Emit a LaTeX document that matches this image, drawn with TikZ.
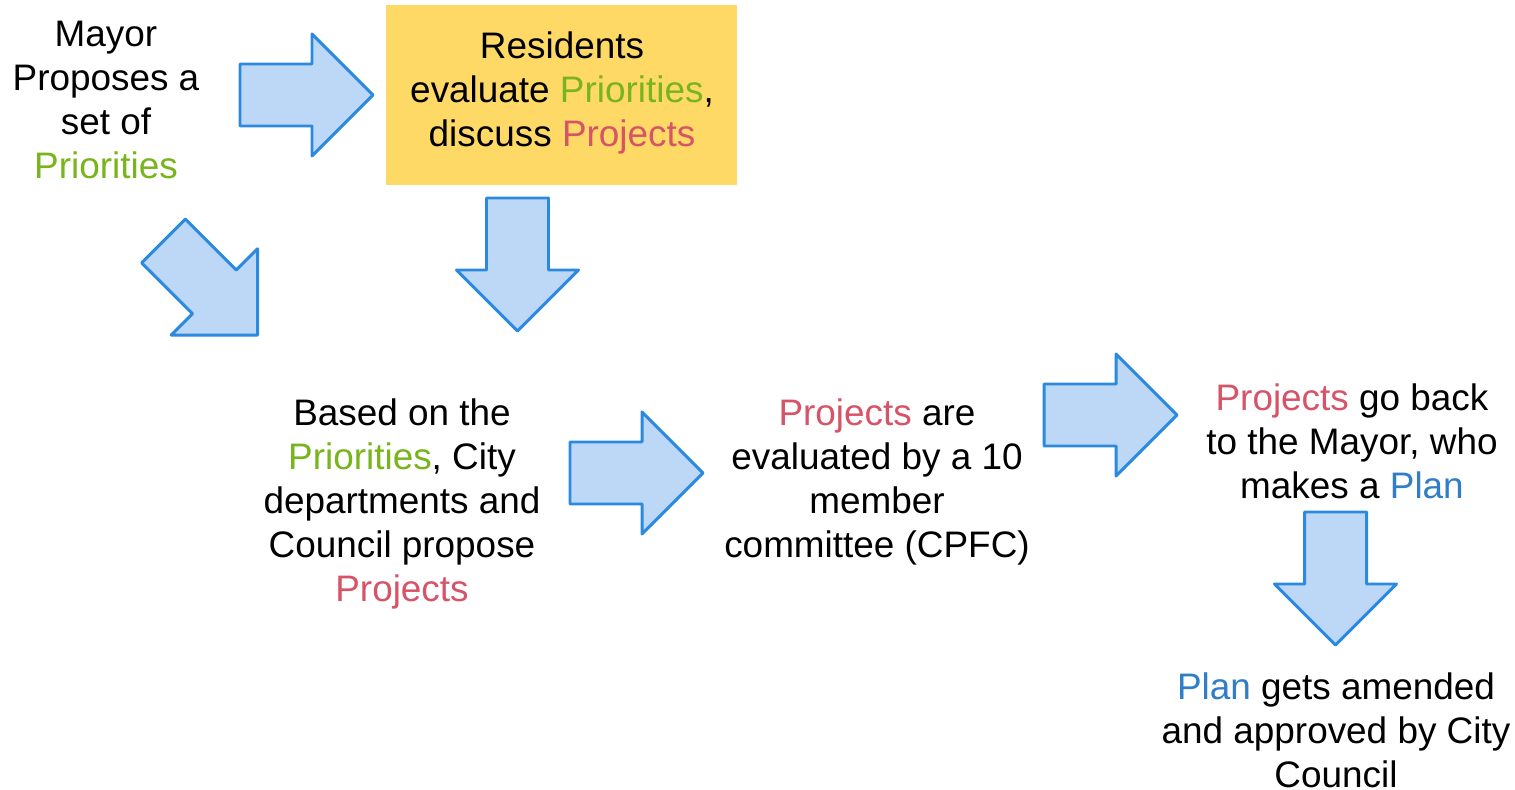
\documentclass[tikz,border=0pt]{standalone}
\usepackage{fontspec}
\setmainfont{Liberation Sans}
\usepackage{xcolor}
\definecolor{priogreen}{HTML}{78B51C}
\definecolor{projred}{HTML}{D65468}
\definecolor{planblue}{HTML}{2F7EC7}
\definecolor{boxyellow}{HTML}{FFD966}
\definecolor{arrowfill}{HTML}{BDD8F6}
\definecolor{arrowline}{HTML}{2B8ADF}

\newcommand{\prio}[1]{\textcolor{priogreen}{#1}}
\newcommand{\proj}[1]{\textcolor{projred}{#1}}
\newcommand{\plan}[1]{\textcolor{planblue}{#1}}

\tikzset{
  steptext/.style={align=center, inner sep=0pt, font=\fontsize{21}{25}\selectfont},
  pics/fatarrow/.style={code={
    \draw[fill=arrowfill, draw=arrowline, line width=1.7pt, line join=round]
      (0,-31) -- (72,-31) -- (72,-61) -- (133,0) -- (72,61) -- (72,31) -- (0,31) -- cycle;
  }}
}

\begin{document}
\begin{tikzpicture}[x=0.02cm, y=-0.02cm]
    \fill[white] (0,0) rectangle (1515,790);
    \useasboundingbox (0,0) rectangle (1515,790);

    \fill[boxyellow] (386,5) rectangle (737,185);

    \node[steptext] (mayor) at (106,100) {Mayor\\Proposes a\\set of\\\prio{Priorities}};
    \node[steptext] (residents) at (562,93) {Residents\\evaluate \prio{Priorities},\\discuss \proj{Projects}};
    \node[steptext] (propose) at (402,504) {Based on the\\\prio{Priorities}, City\\departments and\\Council propose\\\proj{Projects}};
    \node[steptext] (cpfc) at (877,482) {\proj{Projects} are\\evaluated by a 10\\member\\committee (CPFC)};
    \node[steptext] (back) at (1352,441) {\proj{Projects} go back\\to the Mayor, who\\makes a \plan{Plan}};
    \node[steptext] (council) at (1336,730) {\plan{Plan} gets amended\\and approved by City\\Council};

    % block arrows
    \pic at (240,95) {fatarrow};
    \pic[rotate=-45] at (163.5,241) {fatarrow};
    \pic[rotate=-90] at (517.5,198) {fatarrow};
    \pic at (570,473) {fatarrow};
    \pic at (1044,415) {fatarrow};
    \pic[rotate=-90] at (1335.5,512) {fatarrow};
\end{tikzpicture}
\end{document}
